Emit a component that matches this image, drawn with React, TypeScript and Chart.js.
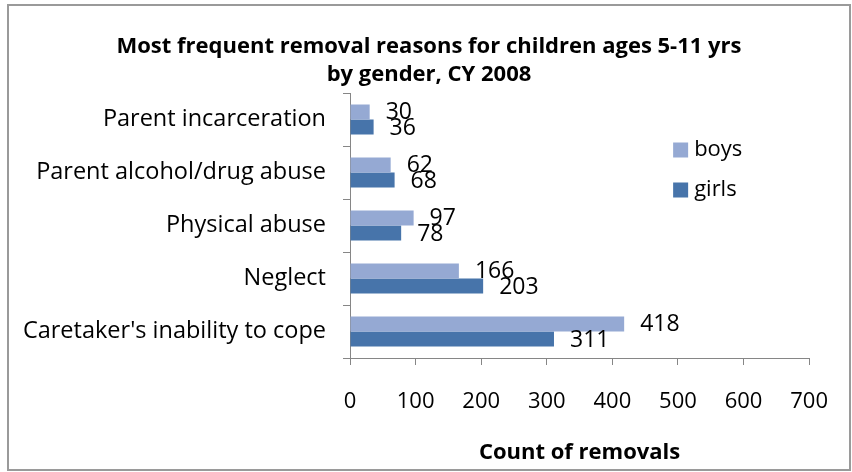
import React, { useEffect, useRef } from 'react';
import { Chart, registerables } from 'chart.js';

Chart.register(...registerables);

const categories = [
  'Parent incarceration',
  'Parent alcohol/drug abuse',
  'Physical abuse',
  'Neglect',
  "Caretaker's inability to cope",
];
const boys = [30, 62, 97, 166, 418];
const girls = [36, 68, 78, 203, 311];
const seriesNames = ['boys', 'girls'];
const titleLines = ['Most frequent removal reasons for children ages 5-11 yrs', 'by gender, CY 2008'];
const xAxisTitle = 'Count of removals';
const xMin = 0;
const xMax = 700;
const xStep = 100;

const FONT = '"Open Sans", Lato, sans-serif';
const BOYS_COLOR = '#95A9D3';
const GIRLS_COLOR = '#4774AA';
const AXIS_COLOR = '#868686';

const framePlugin = {
  id: 'frame',
  beforeDraw(chart: any) {
    const { ctx, width, height } = chart;
    ctx.save();
    ctx.fillStyle = '#ffffff';
    ctx.fillRect(0, 0, width, height);
    ctx.strokeStyle = '#9a9a9a';
    ctx.lineWidth = 2;
    ctx.strokeRect(8, 5, 842, 465);
    ctx.restore();
  },
};

const titlePlugin = {
  id: 'customTitle',
  afterDraw(chart: any) {
    const { ctx } = chart;
    ctx.save();
    ctx.font = `bold 22px ${FONT}`;
    ctx.fillStyle = '#000';
    ctx.textAlign = 'center';
    ctx.textBaseline = 'middle';
    titleLines.forEach((line, i) => ctx.fillText(line, 429, 47 + i * 28));
    ctx.restore();
  },
};

const valueLabelPlugin = {
  id: 'valueLabels',
  afterDatasetsDraw(chart: any) {
    const { ctx } = chart;
    ctx.save();
    ctx.font = `23px ${FONT}`;
    ctx.fillStyle = '#000';
    ctx.textAlign = 'left';
    ctx.textBaseline = 'middle';
    chart.data.datasets.forEach((ds: any, di: number) => {
      const meta = chart.getDatasetMeta(di);
      meta.data.forEach((el: any, i: number) => {
        ctx.fillText(String(ds.data[i]), el.x + 16, el.y + 1);
      });
    });
    ctx.restore();
  },
};

const legendPlugin = {
  id: 'customLegend',
  afterDraw(chart: any) {
    const { ctx, chartArea } = chart;
    ctx.save();
    ctx.font = `22px ${FONT}`;
    ctx.textAlign = 'left';
    ctx.textBaseline = 'middle';
    chart.data.datasets.forEach((ds: any, i: number) => {
      const cy = chartArea.top + 57 + i * 40;
      const x = chartArea.right - 136;
      ctx.fillStyle = ds.backgroundColor;
      ctx.fillRect(x, cy - 7.5, 15, 15);
      ctx.fillStyle = '#000';
      ctx.fillText(ds.label, x + 21, cy);
    });
    ctx.restore();
  },
};

export default function App() {
  const ref = useRef<HTMLCanvasElement | null>(null);

  useEffect(() => {
    if (!ref.current) return;
    const chart = new Chart(ref.current, {
      type: 'bar',
      data: {
        labels: categories,
        datasets: [
          { label: seriesNames[0], data: boys, backgroundColor: BOYS_COLOR, categoryPercentage: 0.57, barPercentage: 1 },
          { label: seriesNames[1], data: girls, backgroundColor: GIRLS_COLOR, categoryPercentage: 0.57, barPercentage: 1 },
        ],
      },
      options: {
        indexAxis: 'y',
        responsive: false,
        animation: false,
        layout: { padding: { top: 93, right: 39, bottom: 0, left: 0 } },
        plugins: {
          legend: { display: false },
          title: { display: false },
          tooltip: { enabled: false },
        },
        scales: {
          x: {
            min: xMin,
            max: xMax,
            ticks: {
              stepSize: xStep,
              color: '#000',
              padding: 24,
              font: { family: FONT, size: 22 },
              maxRotation: 0,
            },
            grid: { drawOnChartArea: false, drawTicks: true, tickLength: 7, color: AXIS_COLOR },
            border: { display: true, color: AXIS_COLOR, width: 1 },
            title: {
              display: true,
              text: xAxisTitle,
              color: '#000',
              font: { family: FONT, size: 22, weight: 'bold' },
              padding: { top: 0, bottom: 6 },
            },
            afterFit: (scale: any) => {
              scale.height = 114;
            },
          },
          y: {
            ticks: {
              color: '#000',
              padding: 17,
              font: { family: FONT, size: 23.5 },
            },
            grid: { drawOnChartArea: false, drawTicks: true, tickLength: 7, color: AXIS_COLOR, offset: true },
            border: { display: true, color: AXIS_COLOR, width: 1 },
            afterFit: (scale: any) => {
              scale.width = 350;
            },
          },
        },
      },
      plugins: [framePlugin, valueLabelPlugin, legendPlugin, titlePlugin],
    } as any);
    return () => chart.destroy();
  }, []);

  return (
    <div style={{ position: 'absolute', left: 0, top: 0, width: 852, height: 472 }}>
      <canvas ref={ref} width={852} height={472} />
    </div>
  );
}
